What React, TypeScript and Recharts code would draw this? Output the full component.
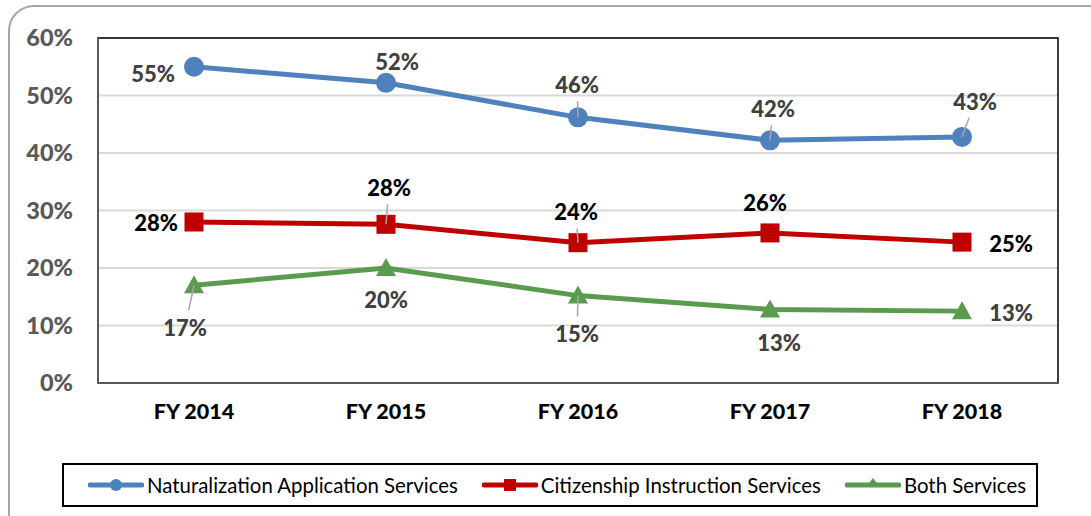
import React from "react";
import { LineChart, Line, XAxis, YAxis, CartesianGrid, ReferenceArea } from "recharts";

const categories = ["FY 2014", "FY 2015", "FY 2016", "FY 2017", "FY 2018"];
const naturalization = [55, 52.2, 46.2, 42.2, 42.8];
const naturalizationLabels = ["55%", "52%", "46%", "42%", "43%"];
const citizenship = [28, 27.6, 24.4, 26.1, 24.5];
const citizenshipLabels = ["28%", "28%", "24%", "26%", "25%"];
const both = [17, 20, 15.2, 12.8, 12.5];
const bothLabels = ["17%", "20%", "15%", "13%", "13%"];
const yTicks = [0, 10, 20, 30, 40, 50, 60];

// label placement (styling): offset from the marker and whether a leader line is drawn
const natPlace = [
  { dx: -41, dy: 7, leader: false },
  { dx: 11, dy: -21, leader: false },
  { dx: -1, dy: -33, leader: true },
  { dx: 3, dy: -32, leader: true },
  { dx: 13, dy: -35, leader: true },
];
const citPlace = [
  { dx: -38, dy: 0, leader: false },
  { dx: 3, dy: -37, leader: true },
  { dx: -2, dy: -31, leader: true },
  { dx: -5, dy: -30, leader: false },
  { dx: 49, dy: 1, leader: false },
];
const bothPlace = [
  { dx: -9, dy: 42, leader: true },
  { dx: 0, dy: 31, leader: false },
  { dx: -1, dy: 38, leader: true },
  { dx: 9, dy: 33, leader: false },
  { dx: 49, dy: 1, leader: false },
];

const data = categories.map((c, i) => ({
  name: c,
  nat: naturalization[i],
  cit: citizenship[i],
  both: both[i],
}));

const FONT = "Lato, 'Noto Sans', sans-serif";

const makeLabel = (texts: string[], place: any[], color: string) => (props: any) => {
  const { x, y, index } = props;
  const p = place[index];
  const lx = x + p.dx;
  const ly = y + p.dy;
  const len = Math.hypot(p.dx, p.dy);
  const ux = p.dx / len;
  const uy = p.dy / len;
  const end = len - 17;
  return (
    <g key={`l-${index}`}>
      {p.leader && (
        <line
          x1={x}
          y1={y}
          x2={x + ux * end}
          y2={y + uy * end}
          stroke="#a6a6a6"
          strokeWidth={1.5}
        />
      )}
      <text
        x={lx}
        y={ly}
        textAnchor="middle"
        dominantBaseline="central"
        fontFamily={FONT}
        fontWeight={900}
        fontSize={22}
        fill={color}
      >
        {texts[index]}
      </text>
    </g>
  );
};

const SquareDot = (props: any) => {
  const { cx, cy, index } = props;
  return <rect key={`s-${index}`} x={cx - 9.5} y={cy - 9.5} width={19} height={19} fill="#c00000" />;
};
const TriDot = (props: any) => {
  const { cx, cy, index } = props;
  return (
    <polygon
      key={`t-${index}`}
      points={`${cx},${cy - 10} ${cx + 10},${cy + 8} ${cx - 10},${cy + 8}`}
      fill="#5b9b4f"
    />
  );
};

const legendItems = [
  { name: "Naturalization Application Services", color: "#4f81bd", shape: "circle" },
  { name: "Citizenship Instruction Services", color: "#c00000", shape: "square" },
  { name: "Both Services", color: "#5b9b4f", shape: "triangle" },
];

const LegendIcon = ({ color, shape }: { color: string; shape: string }) => (
  <svg width={56} height={20} style={{ display: "block" }}>
    <line x1={2} y1={10} x2={54} y2={10} stroke={color} strokeWidth={5} strokeLinecap="round" />
    {shape === "circle" && <circle cx={28} cy={10} r={6} fill={color} />}
    {shape === "square" && <rect x={22} y={4} width={12} height={12} fill={color} />}
    {shape === "triangle" && <polygon points="28,3 35,12 21,12" fill={color} />}
  </svg>
);

export default function App() {
  return (
    <div style={{ position: "absolute", left: 0, top: 0, width: 1091, height: 516, background: "#fff", overflow: "hidden" }}>
      <div
        style={{
          position: "absolute",
          left: 8,
          top: 5,
          width: 1120,
          height: 540,
          border: "2px solid #a6a6a6",
          borderRadius: 26,
          boxSizing: "border-box",
        }}
      />
      <div style={{ position: "absolute", left: 0, top: 0 }}>
        <LineChart
          width={1091}
          height={516}
          data={data}
          margin={{ top: 38, right: 33, bottom: 83, left: 0 }}
        >
          <CartesianGrid vertical={false} stroke="#d9d9d9" strokeWidth={2} />
          <ReferenceArea y1={0} y2={60} fill="none" stroke="#000" strokeWidth={1.5} ifOverflow="visible" />
          <XAxis
            dataKey="name"
            scale="band"
            height={50}
            axisLine={{ stroke: "#595959", strokeWidth: 2 }}
            tickLine={false}
            tickSize={0}
            tickMargin={21}
            tick={{ fontFamily: FONT, fontWeight: 900, fontSize: 21.5, fill: "#000" }}
          />
          <YAxis
            width={98}
            domain={[0, 60]}
            ticks={yTicks}
            tickFormatter={(v: number) => `${v}%`}
            axisLine={{ stroke: "#595959", strokeWidth: 2 }}
            tickLine={false}
            tickSize={0}
            tickMargin={25}
            tick={{ fontFamily: FONT, fontWeight: 900, fontSize: 23.5, fill: "#595959" }}
            interval={0}
          />
          <Line
            dataKey="nat"
            stroke="#4f81bd"
            strokeWidth={5}
            isAnimationActive={false}
            dot={{ r: 10, fill: "#4f81bd", stroke: "none" }}
            activeDot={false}
            label={makeLabel(naturalizationLabels, natPlace, "#404040")}
          />
          <Line
            dataKey="cit"
            stroke="#c00000"
            strokeWidth={5}
            isAnimationActive={false}
            dot={<SquareDot />}
            activeDot={false}
            label={makeLabel(citizenshipLabels, citPlace, "#000")}
          />
          <Line
            dataKey="both"
            stroke="#5b9b4f"
            strokeWidth={5}
            isAnimationActive={false}
            dot={<TriDot />}
            activeDot={false}
            label={makeLabel(bothLabels, bothPlace, "#404040")}
          />
        </LineChart>
      </div>
      <div
        style={{
          position: "absolute",
          left: 62,
          top: 463,
          width: 976,
          height: 44,
          border: "2px solid #000",
          boxSizing: "border-box",
          display: "flex",
          alignItems: "center",
          justifyContent: "center",
          paddingLeft: 14,
          fontFamily: FONT,
          fontSize: 20.4,
          color: "#000",
        }}
      >
        {legendItems.map((it, i) => (
          <div key={it.name} style={{ display: "flex", alignItems: "center", marginLeft: i === 0 ? 0 : 24 }}>
            <LegendIcon color={it.color} shape={it.shape} />
            <span style={{ marginLeft: 3 }}>{it.name}</span>
          </div>
        ))}
      </div>
    </div>
  );
}
